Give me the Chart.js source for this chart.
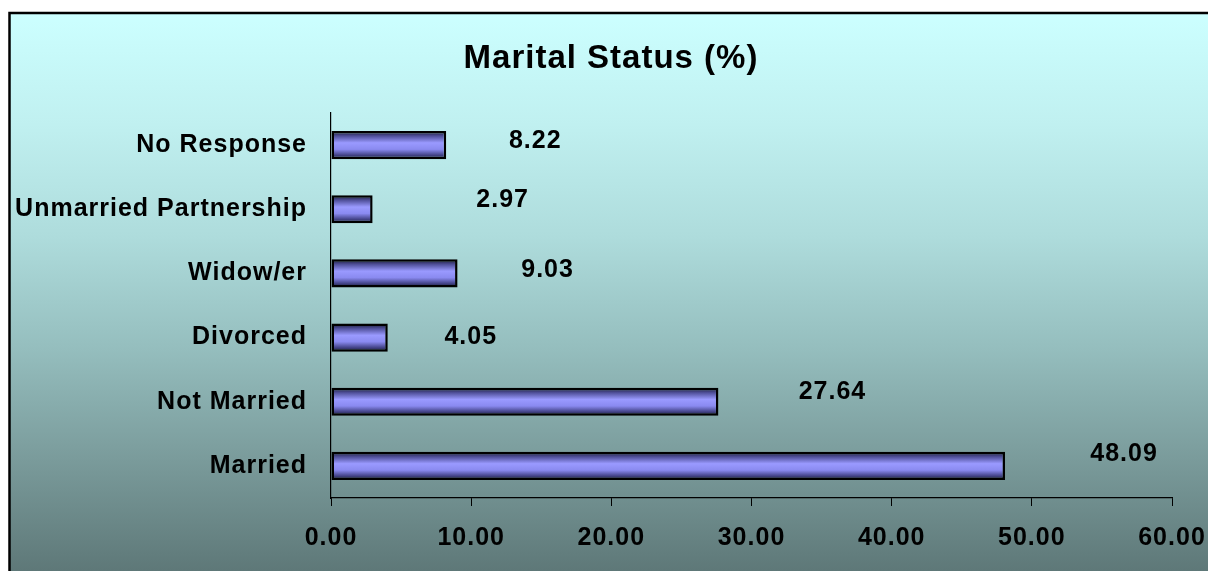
<!DOCTYPE html>
<html>
<head>
<meta charset="utf-8">
<title>Marital Status (%)</title>
<script src="https://cdn.jsdelivr.net/npm/chart.js@4.4.1/dist/chart.umd.min.js"></script>
<style>
    html, body { margin: 0; padding: 0; background: #fff; }
    canvas { display: block; }
</style>
</head>
<body>
<canvas id="marital-chart" width="1208" height="571"></canvas>
<script>
// data, top row first
const categories = ['No Response', 'Unmarried Partnership', 'Widow/er', 'Divorced', 'Not Married', 'Married'];
const percentages = [8.22, 2.97, 9.03, 4.05, 27.64, 48.09];
const xTicks = [0, 10, 20, 30, 40, 50, 60];

// where each value label sits relative to its bar end (px)
const labelNudge = [[89, -4], [130, -9], [90, -3], [83, 0], [114, -10], [119, -12]];

const FONT = '"Liberation Sans", Arial, sans-serif';
const BAR_SHARE = 0.44;

document.addEventListener('DOMContentLoaded', () => {
    const ctx = document.getElementById('marital-chart').getContext('2d');

    const spacing = (chart) => { chart.ctx.letterSpacing = '1px'; };

    const backdrop = {
        id: 'backdrop',
        beforeLayout: spacing,
        afterLayout: (chart) => {
            // let the long category names run past the padded edge
            chart.scales.y.left = 0;
        },
        beforeDraw: (chart) => {
            const c = chart.ctx;
            spacing(chart);
            c.save();
            c.fillStyle = '#fff';
            c.fillRect(0, 0, chart.width, chart.height);
            const g = c.createLinearGradient(0, 13, 0, chart.height);
            g.addColorStop(0, '#ccffff');
            g.addColorStop(0.2, '#c0f0f0');
            g.addColorStop(0.4, '#aedcdc');
            g.addColorStop(0.6, '#95bebe');
            g.addColorStop(0.8, '#7a9b9b');
            g.addColorStop(1, '#5e7878');
            c.fillStyle = g;
            c.fillRect(9, 13, chart.width - 9, chart.height - 13);
            c.strokeStyle = '#000';
            c.lineWidth = 2.5;
            c.beginPath();
            c.moveTo(9.5, chart.height);
            c.lineTo(9.5, 13);
            c.lineTo(chart.width, 13);
            c.stroke();
            c.restore();
        }
    };

    const valueLabels = {
        id: 'valueLabels',
        afterDatasetsDraw: (chart) => {
            const c = chart.ctx;
            const xs = chart.scales.x;
            const ys = chart.scales.y;
            c.save();
            c.font = 'bold 25px ' + FONT;
            c.fillStyle = '#000';
            c.textAlign = 'center';
            c.textBaseline = 'middle';
            percentages.forEach((v, i) => {
                const x = xs.getPixelForValue(v) + labelNudge[i][0];
                const y = ys.getPixelForValue(i) + labelNudge[i][1];
                c.fillText(v.toFixed(2), x, y);
            });
            c.restore();
        }
    };

    const barFill = (context) => {
        const chart = context.chart;
        const ys = chart.scales.y;
        if (!chart.chartArea || !ys) return '#9999ff';
        const centre = ys.getPixelForValue(context.dataIndex);
        const half = (ys.bottom - ys.top) / categories.length * BAR_SHARE / 2;
        const g = chart.ctx.createLinearGradient(0, centre - half, 0, centre + half);
        g.addColorStop(0, '#15152e');
        g.addColorStop(0.18, '#50509a');
        g.addColorStop(0.42, '#9a9aff');
        g.addColorStop(0.65, '#8a8af0');
        g.addColorStop(0.85, '#45458a');
        g.addColorStop(1, '#15152e');
        return g;
    };

    new Chart(ctx, {
        type: 'bar',
        data: {
            labels: categories,
            datasets: [{
                label: 'Marital Status (%)',
                data: percentages,
                backgroundColor: barFill,
                borderColor: '#000',
                borderWidth: 2.5,
                borderSkipped: false,
                categoryPercentage: 1,
                barPercentage: BAR_SHARE
            }]
        },
        options: {
            indexAxis: 'y',
            responsive: false,
            animation: false,
            layout: {
                padding: { left: 50, right: 36, top: 0, bottom: 0 }
            },
            plugins: {
                legend: { display: false },
                tooltip: { enabled: false },
                title: {
                    display: true,
                    text: 'Marital Status (%)',
                    color: '#000',
                    font: { family: FONT, size: 33, weight: 'bold' },
                    padding: { top: 39, bottom: 34.4 }
                }
            },
            scales: {
                x: {
                    min: xTicks[0],
                    max: xTicks[xTicks.length - 1],
                    afterBuildTicks: (scale) => {
                        scale.ticks = xTicks.map(v => ({ value: v }));
                    },
                    afterFit: (scale) => {
                        scale.height = 73;
                        scale.paddingLeft = 0;
                        scale.paddingRight = 0;
                    },
                    grid: {
                        drawOnChartArea: false,
                        drawTicks: true,
                        tickLength: 8,
                        color: '#000',
                        lineWidth: 1
                    },
                    border: { display: true, color: '#000', width: 1.2 },
                    ticks: {
                        color: '#000',
                        padding: 17,
                        maxRotation: 0,
                        autoSkip: false,
                        font: { family: FONT, size: 25, weight: 'bold' },
                        callback: (v) => Number(v).toFixed(2)
                    }
                },
                y: {
                    afterFit: (scale) => { scale.width = 281; },
                    grid: { display: false, drawTicks: false },
                    border: { display: true, color: '#000', width: 1.2 },
                    ticks: {
                        color: '#000',
                        padding: 24,
                        autoSkip: false,
                        font: { family: FONT, size: 25, weight: 'bold' }
                    }
                }
            }
        },
        plugins: [backdrop, valueLabels]
    });
});
</script>
</body>
</html>
